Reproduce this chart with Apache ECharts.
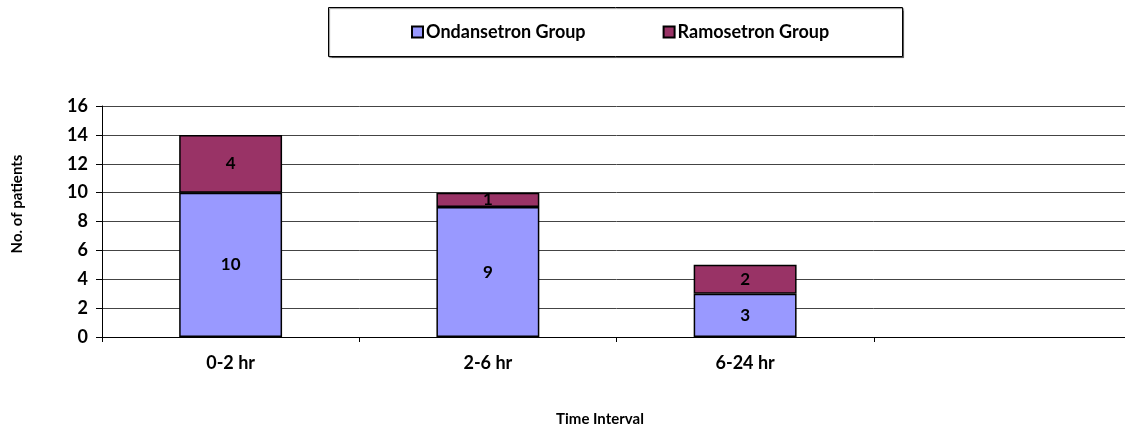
<!DOCTYPE html>
<html>
<head>
<meta charset="utf-8">
<script src="https://cdn.jsdelivr.net/npm/echarts@6/dist/echarts.min.js"></script>
<style>html,body{margin:0;padding:0;background:#fff;overflow:hidden}#c{width:1131px;height:428px}</style>
</head>
<body>
<div id="c"></div>
<script>
const categories = ['0-2 hr', '2-6 hr', '6-24 hr', ''];
const ondansetron = [10, 9, 3, null];
const ramosetron = [4, 1, 2, null];
const yTicks = {min: 0, max: 16, interval: 2};
const seriesNames = ['Ondansetron Group', 'Ramosetron Group'];
const xTitle = 'Time Interval';
const yTitle = 'No. of patients';

const FONT = 'Lato';
const chart = echarts.init(document.getElementById('c'), null, {renderer: 'canvas'});
const lbl = {show: true, position: 'inside', color: '#000', fontWeight: 'bold', fontSize: 17, fontFamily: FONT};
chart.setOption({
  animation: false,
  backgroundColor: '#fff',
  grid: {left: 102, right: 0, top: 106, bottom: 91, containLabel: false},
  legend: {
    left: 406, top: 18, itemWidth: 11, itemHeight: 11, itemGap: 77,
    icon: 'rect',
    textStyle: {fontFamily: FONT, fontWeight: 'bold', fontSize: 18, color: '#000', padding: [0, 0, 0, -2]},
    data: seriesNames
  },
  graphic: [
    {type: 'rect', left: 328, top: 7, shape: {width: 574, height: 49}, z: -1,
     style: {fill: '#fff', stroke: '#000', lineWidth: 1, shadowColor: 'rgba(0,0,0,0.45)', shadowOffsetX: 1, shadowOffsetY: 1, shadowBlur: 1}},
    {type: 'text', x: 17, y: 204, rotation: Math.PI / 2,
     style: {text: yTitle, fontFamily: FONT, fontWeight: 'bold', fontSize: 15, fill: '#000', align: 'center', verticalAlign: 'middle'}},
    {type: 'text', x: 600, y: 419,
     style: {text: xTitle, fontFamily: FONT, fontWeight: 'bold', fontSize: 15, fill: '#000', align: 'center', verticalAlign: 'middle'}}
  ],
  xAxis: {
    type: 'category', data: categories,
    axisLine: {lineStyle: {color: '#000', width: 1}},
    axisTick: {show: true, length: 5, lineStyle: {color: '#000'}},
    axisLabel: {fontFamily: FONT, fontWeight: 'bold', fontSize: 18, color: '#000', margin: 17},
    splitLine: {show: false}
  },
  yAxis: {
    type: 'value', min: yTicks.min, max: yTicks.max, interval: yTicks.interval,
    axisLine: {show: true, lineStyle: {color: '#000', width: 1}},
    axisTick: {show: true, length: 6, lineStyle: {color: '#000'}},
    axisLabel: {fontFamily: FONT, fontWeight: 'bold', fontSize: 18, color: '#000', margin: 14},
    splitLine: {show: true, lineStyle: {color: '#444', width: 1}}
  },
  series: [
    {name: seriesNames[0], type: 'bar', stack: 'a', data: ondansetron, barWidth: '40%',
     itemStyle: {color: '#9999FF', borderColor: '#000', borderWidth: 1.5}, label: lbl},
    {name: seriesNames[1], type: 'bar', stack: 'a', data: ramosetron, barWidth: '40%',
     itemStyle: {color: '#993366', borderColor: '#000', borderWidth: 1.5}, label: lbl}
  ]
});
</script>
</body>
</html>
